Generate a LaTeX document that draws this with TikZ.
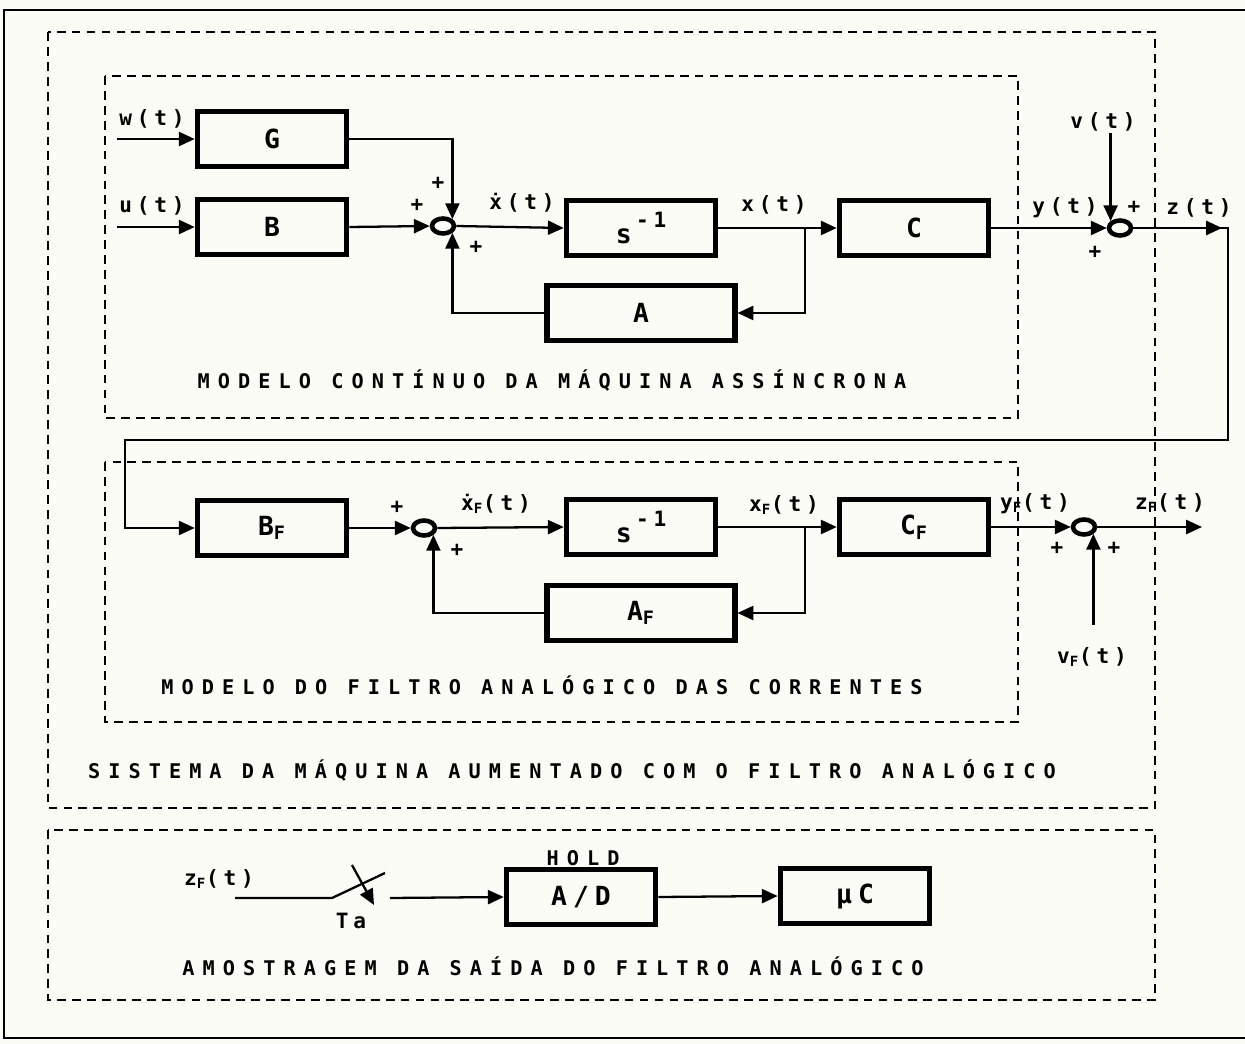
\documentclass[tikz,border=0pt]{standalone}
\usepackage{fontspec}
\setmainfont{DejaVu Sans Mono}
\newfontfamily\monocap[LetterSpace=40]{DejaVu Sans Mono}
\newfontfamily\monosig[LetterSpace=23]{DejaVu Sans Mono}
\newcommand{\captxt}{\monocap\bfseries\fontsize{11.5}{13}\selectfont}
\newcommand{\sigtxt}{\monosig\bfseries\fontsize{12}{13}\selectfont}
\newcommand{\blktxt}{\monosig\bfseries\fontsize{15}{17}\selectfont}
\newcommand{\sgntxt}{\monosig\bfseries\fontsize{12}{12}\selectfont}
\newcommand{\sinv}{s\,\raisebox{1.1ex}{\sgntxt -1}}
\usetikzlibrary{arrows.meta,positioning,shapes.geometric,calc}
\definecolor{paper}{RGB}{252,252,247}

\begin{document}
\begin{tikzpicture}[x=0.02cm, y=-0.02cm,
        block/.style={rectangle, draw=black, line width=3.2pt, minimum width=2.98cm, minimum height=1.1cm, align=center, font=\blktxt},
        wide/.style={block, minimum width=3.75cm},
        sum/.style={ellipse, draw=black, line width=2.6pt, minimum width=0.44cm, minimum height=0.3cm, inner sep=0pt},
        zone/.style={draw=black, line width=1.6pt, dash pattern=on 5pt off 3.5pt},
        flow/.style={-{Triangle[length=9pt,width=8pt]}, line width=1.3pt},
        wire/.style={line width=1.3pt},
        sig/.style={font=\sigtxt, inner sep=1pt},
        sgn/.style={font=\sgntxt, inner sep=0pt},
        title/.style={font=\captxt, inner sep=1pt}
    ]
    \useasboundingbox (0,0) rectangle (1245,1044);
    \fill[paper] (0,0) rectangle (1245,1044);
    \draw[line width=1.2pt] (4,10) rectangle (1262,1038);

    % Dashed zones
    \draw[zone] (48,32) rectangle (1155,808);
    \draw[zone] (105,76) rectangle (1018,418);
    \draw[zone] (105,462) rectangle (1018,722);
    \draw[zone] (48,830) rectangle (1155,1000);

    % Machine model
    \node[block] (G) at (272,139) {G};
    \node[block] (B) at (272,227) {B};
    \node[sum] (s1) at (443,226) {};
    \node[block] (int) at (641,228) {\sinv};
    \node[block] (C) at (914,228) {C};
    \node[wide] (A) at (641,313) {A};
    \node[sum] (s2) at (1120,228) {};

    \coordinate (win) at (117,139);
    \coordinate (uin) at (117,227);
    \coordinate (xb) at (805,228);
    \coordinate (zc) at (1228,228);
    \coordinate (fb) at (125,440);

    \node[sig] at (152,119) {w(t)};
    \node[sig] at (152,206) {u(t)};
    \node[sgn] at (438,183) {+};
    \node[sgn] at (417,205) {+};
    \node[sgn] at (476,247) {+};
    \node[sig] at (522,203) {ẋ(t)};
    \node[sig] at (774,205) {x(t)};
    \node[sig] at (1065,208) {y(t)};
    \node[sig] (v) at (1103,122) {v(t)};
    \node[sgn] at (1134,207) {+};
    \node[sgn] at (1095,252) {+};
    \node[sig] at (1199,208) {z(t)};
    \node[title] at (552,381) {MODELO CONTÍNUO DA MÁQUINA ASSÍNCRONA};

    \draw[flow] (win) -- (G.west);
    \draw[flow] (uin) -- (B.west);
    \draw[flow] (G.east) -| (s1.north east);
    \draw[flow] (B.east) -- (s1.west);
    \draw[flow] (A.west) -| (s1.south east);
    \draw[flow] (s1.east) -- (int.west);
    \draw[flow] (int.east) -- (C.west);
    \draw[flow] (xb) |- (A.east);
    \draw[flow] (C.east) -- (s2.west);
    \draw[flow] (v.south -| s2.north west) -- (s2.north west);
    \draw[flow] (s2.east) -- ($(zc)+(-6,0)$);

    % Analog filter
    \node[block] (BF) at (272,528) {B\textsubscript{F}};
    \node[sum] (s3) at (424,528) {};
    \node[block] (intF) at (641,527) {\sinv};
    \node[block] (CF) at (914,527) {C\textsubscript{F}};
    \node[wide] (AF) at (641,613) {A\textsubscript{F}};
    \node[sum] (s4) at (1084,527) {};

    \coordinate (xfb) at (805,527);
    \coordinate (vfin) at (1095,625);
    \coordinate (zfout) at (1202,527);

    \draw[flow] (s2.east) -- (zc) |- (fb) |- (BF.west);
    \draw[flow] (BF.east) -- (s3.west);
    \draw[flow] (AF.west) -| (s3.south east);
    \draw[flow] (s3.east) -- (intF.west);
    \draw[flow] (intF.east) -- (CF.west);
    \draw[flow] (xfb) |- (AF.east);
    \draw[flow] (CF.east) -- (s4.west);
    \draw[flow] (s4.east) -- (zfout);
    \draw[flow] (vfin -| s4.south east) -- (s4.south east);

    \node[sgn] at (397,507) {+};
    \node[sgn] at (457,550) {+};
    \node[sig] at (496,504) {ẋ\textsubscript{F}(t)};
    \node[sig] at (784,505) {x\textsubscript{F}(t)};
    \node[sig] at (1035,504) {y\textsubscript{F}(t)};
    \node[sig] at (1170,503) {z\textsubscript{F}(t)};
    \node[sgn] at (1057,548) {+};
    \node[sgn] at (1114,548) {+};
    \node[sig] at (1092,657) {v\textsubscript{F}(t)};
    \node[title] at (542,685) {MODELO DO FILTRO ANALÓGICO DAS CORRENTES};
    \node[title] at (572,771) {SISTEMA DA MÁQUINA AUMENTADO COM O FILTRO ANALÓGICO};

    % Sampling
    \node[block] (ad) at (581,897) {A/D};
    \node[block] (uc) at (855,896) {µC};
    \node[title] at (583,858) {HOLD};

    \coordinate (zfin) at (235,898);
    \coordinate (sw) at (332,898);
    \coordinate (swb) at (385,873);
    \coordinate (swo) at (390,898);
    \coordinate (ta1) at (352,865);
    \coordinate (ta2) at (374,905);

    \draw[wire] (zfin) -- (sw) -- (swb);
    \draw[flow] (ta1) -- (ta2);
    \draw[flow] (swo) -- (ad.west);
    \draw[flow] (ad.east) -- (uc.west);

    \node[sig] at (219,879) {z\textsubscript{F}(t)};
    \node[sig] at (351,921) {Ta};
    \node[title] at (553,966) {AMOSTRAGEM DA SAÍDA DO FILTRO ANALÓGICO};
\end{tikzpicture}
\end{document}
